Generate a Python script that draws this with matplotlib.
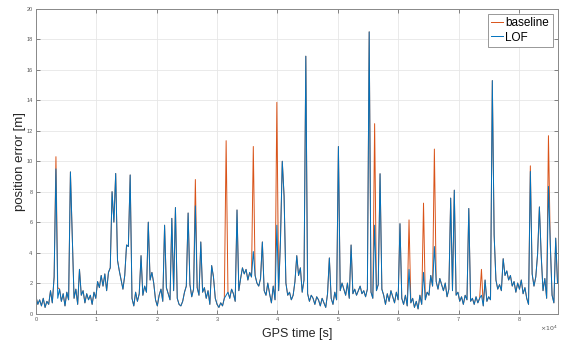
import numpy as np
import matplotlib
matplotlib.use("Agg")
import matplotlib.pyplot as plt

# position error, one sample every 300 s
sample_step = 300  # [s]
lof_err = [
    1.1, 0.6, 0.9, 0.5, 1.0, 0.4, 0.8, 0.6, 1.5, 0.7,
    2.4, 9.5, 1.0, 1.6, 0.8, 1.3, 0.5, 1.4, 0.9, 9.3,
    5.2, 1.0, 1.6, 0.6, 2.9, 1.2, 1.5, 0.7, 1.3, 0.9,
    1.2, 0.6, 1.4, 1.0, 2.1, 1.7, 2.5, 1.8, 2.6, 1.5,
    2.7, 3.0, 8.0, 6.0, 9.2, 3.5, 2.8, 2.2, 1.6, 2.5,
    4.5, 4.4, 9.1, 1.0, 0.5, 1.4, 0.8, 1.3, 3.8, 1.2,
    1.8, 1.4, 6.0, 2.2, 2.7, 2.0, 0.9, 0.5, 1.2, 1.6,
    0.8, 5.8, 1.7, 1.3, 0.9, 6.25, 1.5, 6.96, 1.0, 0.6,
    0.5, 0.8, 1.4, 1.8, 6.6, 1.9, 1.1, 1.6, 7.07, 1.7,
    1.2, 4.7, 1.4, 1.7, 1.0, 1.5, 0.6, 3.15, 2.4, 1.0,
    0.6, 0.4, 0.7, 0.5, 1.0, 1.2, 1.4, 1.0, 1.6, 1.3,
    0.8, 6.8, 1.5, 2.3, 3.0, 2.6, 2.9, 2.2, 2.7, 2.4,
    4.07, 2.5, 2.0, 1.8, 2.3, 4.7, 1.5, 1.2, 2.0, 1.3,
    0.7, 1.8, 0.9, 5.8, 1.5, 4.8, 10.0, 7.7, 2.0, 1.2,
    1.4, 0.9, 1.2, 2.1, 3.8, 2.5, 3.0, 1.4, 2.2, 16.9,
    1.3, 0.8, 1.2, 1.0, 0.6, 1.1, 0.9, 0.5, 1.0, 0.7,
    0.4, 1.3, 3.65, 1.0, 0.6, 1.4, 0.9, 10.97, 1.5, 2.0,
    1.6, 1.2, 2.0, 1.0, 4.5, 1.3, 1.6, 1.2, 1.5, 1.8,
    1.3, 1.5, 1.1, 1.6, 18.5, 1.4, 1.0, 5.8, 1.5, 1.9,
    9.18, 1.6, 1.2, 0.6, 1.3, 0.8, 1.5, 1.1, 0.7, 1.4,
    0.9, 5.9, 1.0, 0.6, 1.2, 0.5, 2.9, 0.7, 1.0, 0.4,
    0.8, 0.3, 1.2, 0.6, 2.7, 0.9, 1.4, 1.2, 2.5, 1.8,
    4.4, 2.1, 1.6, 2.3, 1.9, 1.5, 2.0, 1.1, 1.6, 7.58,
    1.5, 8.1, 1.2, 1.4, 0.8, 1.1, 0.6, 1.2, 0.9, 6.9,
    0.8, 1.0, 0.6, 1.1, 0.7, 1.0, 1.2, 0.5, 2.2, 0.8,
    1.1, 0.9, 15.3, 5.16, 2.2, 1.6, 1.9, 1.5, 3.6, 2.5,
    2.8, 2.2, 2.5, 1.8, 2.1, 1.4, 2.0, 1.6, 2.2, 1.3,
    1.7, 1.0, 0.6, 9.33, 2.6, 1.8, 2.4, 3.9, 7.0, 3.8,
    1.5, 2.3, 1.0, 8.35, 4.6, 1.2, 0.7, 4.95, 2.0,
]

# samples where the baseline differs from LOF (index -> error [m])
baseline_diff = {
    11: 10.3, 12: 1.7, 88: 8.8, 105: 11.35, 120: 10.97, 133: 13.87,
    187: 12.47, 206: 6.15, 214: 7.25, 220: 10.8, 246: 2.9,
    273: 9.7, 283: 11.68,
}

gps_time = np.arange(len(lof_err)) * sample_step
baseline_err = np.array(lof_err, dtype=float)
for idx, val in baseline_diff.items():
    baseline_err[idx] = val

plt.rcParams['font.family'] = ['Liberation Sans', 'DejaVu Sans']

fig = plt.figure(figsize=(5.69, 3.41), dpi=100)
ax = fig.add_axes([0.0633, 0.0806, 0.9165, 0.893])

ax.plot(gps_time, baseline_err, color='#D95319', lw=0.7, label='baseline')
ax.plot(gps_time, lof_err, color='#0072BD', lw=0.7, label='LOF')

ax.set_xlim(0, 86400)
ax.set_ylim(0, 20)
ax.set_yticks(np.arange(0, 21, 2))
ax.set_xticks(np.arange(0, 80001, 10000))
ax.set_xticklabels([str(k) for k in range(9)])

ax.grid(color='#e6e6e6', lw=0.6)
ax.set_axisbelow(True)
ax.tick_params(direction='in', top=True, right=True, length=3, width=0.5,
               labelsize=4, colors='#555555', pad=2.5)
for s in ax.spines.values():
    s.set_color('#888888')
    s.set_linewidth(0.7)

# exponent of the x axis, bottom right like MATLAB
ax.text(1.0, -0.05, r'$\times10^4$', transform=ax.transAxes, ha='right',
        va='center', fontsize=4.5, color='#555555')

ax.set_xlabel('GPS time [s]', fontsize=9, color='#262626', labelpad=4)
ax.set_ylabel('position error [m]', fontsize=9.5, color='#262626', labelpad=0)

leg = ax.legend(loc='upper right', fontsize=8.5, handlelength=1.0,
                handletextpad=0.2, borderpad=0.3, labelspacing=0.2,
                fancybox=False, framealpha=1, borderaxespad=0.4)
leg.get_frame().set_edgecolor('#888888')
leg.get_frame().set_linewidth(0.6)

fig.savefig('out.png', dpi=100)
